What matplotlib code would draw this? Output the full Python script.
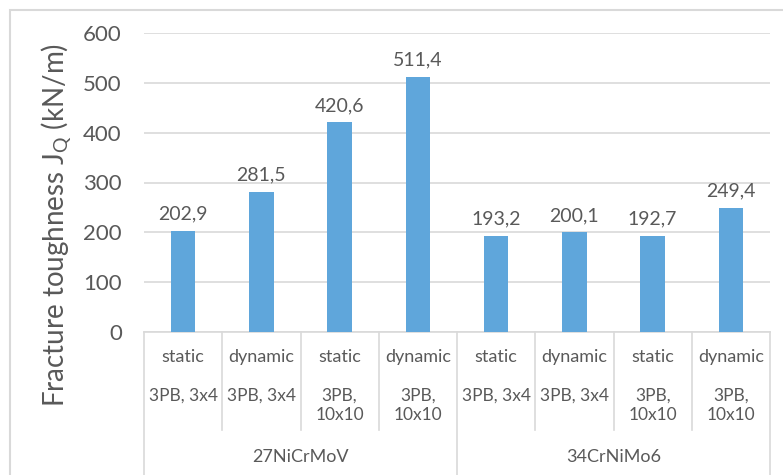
import matplotlib.pyplot as plt
from matplotlib.patches import Rectangle
from matplotlib.lines import Line2D

# fracture toughness results, two steels, four test conditions each
materials = ["27NiCrMoV", "34CrNiMo6"]
modes = ["static", "dynamic", "static", "dynamic",
         "static", "dynamic", "static", "dynamic"]
specimens = ["3PB, 3x4", "3PB, 3x4", "3PB,\n10x10", "3PB,\n10x10",
             "3PB, 3x4", "3PB, 3x4", "3PB,\n10x10", "3PB,\n10x10"]
jq = [202.9, 281.5, 420.6, 511.4, 193.2, 200.1, 192.7, 249.4]

plt.rcParams['font.family'] = ['Lato', 'DejaVu Sans']
txt = '#595959'
line = '#D9D9D9'

fig = plt.figure(figsize=(7.83, 4.75), dpi=100)
W, H = 783, 475
y0, y600 = 332, 33      # pixel rows of the 0 and 600 gridlines
ax = fig.add_axes([144 / W, (H - y0) / H, (770 - 144) / W, (y0 - y600) / H])

x = list(range(len(jq)))
ax.bar(x, jq, width=0.31, color='#5FA6DB', zorder=3)
for xi, v in zip(x, jq):
    ax.annotate(f"{v:.1f}".replace('.', ','), (xi, v), xytext=(0, 6),
                textcoords='offset points', ha='center', va='bottom',
                fontsize=14, color=txt)

ax.set_xlim(-0.5, len(jq) - 0.5)
ax.set_ylim(0, 600)
ax.set_yticks(range(0, 601, 100))
ax.tick_params(axis='y', length=0, pad=16, labelsize=16, labelcolor=txt)
ax.tick_params(axis='x', length=0, labelbottom=False)
ax.grid(axis='y', color=line, linewidth=1.2, zorder=0)
for s in ['top', 'right', 'left']:
    ax.spines[s].set_visible(False)
ax.spines['bottom'].set_color(line)
ax.spines['bottom'].set_linewidth(1.2)


def fy(py):
    # pixel row below the plot -> axes fraction
    return (y0 - py) / (y0 - y600)


tr = ax.get_xaxis_transform()
for xi in x:
    ax.text(xi, fy(357), modes[xi], transform=tr, ha='center', va='center',
            fontsize=13, color=txt)
    ax.text(xi, fy(388), specimens[xi], transform=tr, ha='center', va='top',
            fontsize=12.5, color=txt, linespacing=1.25)

# category separators, longer ones between the steels
for k in range(len(jq) + 1):
    bottom = 500 if k % 4 == 0 else 430
    ax.add_line(Line2D([k - 0.5, k - 0.5], [fy(y0), fy(bottom)], transform=tr,
                       color=line, linewidth=1.2, clip_on=False))
for i, m in enumerate(materials):
    ax.text(i * 4 + 1.5, fy(457), m, transform=tr, ha='center', va='center',
            fontsize=13, color=txt)

fig.text(57 / W, 1 - 225 / H, "Fracture toughness J$_\\mathregular{Q}$ (kN/m)",
         rotation=90, ha='center', va='center', fontsize=20, color=txt)

# chart border
fig.add_artist(Rectangle((10 / W, -0.2), 1.0, 1 - 10 / H + 0.2,
                         transform=fig.transFigure, fill=False,
                         edgecolor=line, linewidth=1.5))

fig.savefig('out.png', dpi=100)
